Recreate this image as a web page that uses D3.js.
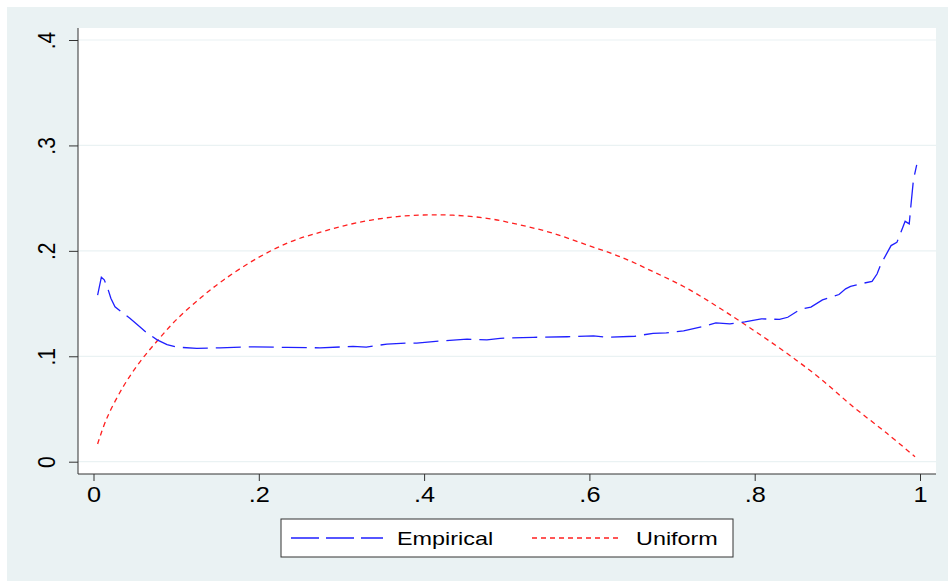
<!DOCTYPE html>
<html>
<head>
<meta charset="utf-8">
<script src="https://cdn.jsdelivr.net/npm/d3@7"></script>
<style>
  body { margin: 0; background: #fff; }
  svg { display: block; }
  text { font-family: "Liberation Sans", Arial, sans-serif; fill: #000; }
</style>
</head>
<body>
<svg id="chart" width="948" height="581"></svg>
<script>
// values
const empX = [0.005, 0.0095, 0.013, 0.017, 0.021, 0.026, 0.034, 0.044, 0.056, 0.064, 0.077, 0.089, 0.101, 0.125, 0.153,
  0.193, 0.234, 0.274, 0.314, 0.33, 0.355, 0.381, 0.391, 0.423, 0.452, 0.476, 0.492, 0.532, 0.573, 0.605, 0.621, 0.655,
  0.677, 0.693, 0.714, 0.736, 0.753, 0.770, 0.788, 0.808, 0.830, 0.840, 0.855, 0.868, 0.882, 0.902, 0.910, 0.916, 0.931,
  0.942, 0.948, 0.953, 0.960, 0.965, 0.972, 0.979, 0.982, 0.987, 0.989, 0.992, 0.996];
const empY = [0.158, 0.175, 0.1725, 0.165, 0.155, 0.147, 0.142, 0.136, 0.128, 0.1226, 0.1156, 0.111, 0.1087, 0.1074, 0.108,
  0.109, 0.1084, 0.108, 0.1093, 0.1087, 0.1116, 0.1125, 0.1125, 0.1147, 0.1162, 0.1156, 0.117, 0.118, 0.1185, 0.1194, 0.118, 0.119,
  0.1218, 0.1222, 0.124, 0.128, 0.1317, 0.1308, 0.1326, 0.1355, 0.135, 0.137, 0.1445, 0.1466, 0.1535, 0.1586, 0.164, 0.1662, 0.1692,
  0.171, 0.178, 0.188, 0.1978, 0.205, 0.208, 0.222, 0.228, 0.2256, 0.243, 0.267, 0.2815];

const uniX = [0.005, 0.016, 0.036, 0.056, 0.077, 0.1, 0.129, 0.157, 0.198, 0.238, 0.278, 0.318, 0.359, 0.399, 0.435,
  0.476, 0.516, 0.556, 0.597, 0.637, 0.677, 0.718, 0.758, 0.798, 0.839, 0.879, 0.919, 0.960, 0.994];
const uniY = [0.0168, 0.041, 0.0712, 0.0945, 0.1145, 0.1345, 0.155, 0.1722, 0.193, 0.2085, 0.2185, 0.2265, 0.2318, 0.234, 0.2338,
  0.2309, 0.2246, 0.2167, 0.2056, 0.1945, 0.1803, 0.1645, 0.1455, 0.125, 0.1028, 0.0791, 0.0522, 0.0269, 0.0047];

const xTicks = [0, 0.2, 0.4, 0.6, 0.8, 1];
const xTickLabels = ["0", ".2", ".4", ".6", ".8", "1"];
const yTicks = [0, 0.1, 0.2, 0.3, 0.4];
const yTickLabels = ["0", ".1", ".2", ".3", ".4"];
const seriesNames = ["Empirical", "Uniform"];

const W = 948, H = 581;
const plot = {left: 78, top: 28, right: 936, bottom: 474};
const svg = d3.select("#chart");

// outer region
svg.append("rect").attr("x", 7).attr("y", 7).attr("width", W - 7).attr("height", H - 7).attr("fill", "#eaf2f3");
svg.append("rect").attr("x", plot.left).attr("y", plot.top)
  .attr("width", plot.right - plot.left).attr("height", plot.bottom - plot.top).attr("fill", "#fff");

const x = d3.scaleLinear().domain([0, 1]).range([93.5, 920]);
const y = d3.scaleLinear().domain([0, 0.4]).range([461.7, 40]);

// grid
svg.append("g").selectAll("line").data(yTicks).join("line")
  .attr("x1", plot.left).attr("x2", plot.right)
  .attr("y1", d => y(d)).attr("y2", d => y(d))
  .attr("stroke", "#eaf2f3").attr("stroke-width", 1.2);

// axes
const gy = svg.append("g").attr("transform", `translate(${plot.left},0)`)
  .call(d3.axisLeft(y).tickValues(yTicks).tickFormat((d, i) => yTickLabels[i]).tickSize(9).tickSizeOuter(0));
gy.attr("font-size", null).attr("font-family", null);
gy.select(".domain").remove();
gy.selectAll(".tick line").attr("stroke", "#333");
gy.selectAll(".tick text").attr("x", null).attr("dy", null)
  .attr("text-anchor", "middle").attr("font-size", 21)
  .attr("transform", "translate(-23,0) scale(1.1,1) rotate(-90)");

const gx = svg.append("g").attr("transform", `translate(0,${plot.bottom})`)
  .call(d3.axisBottom(x).tickValues(xTicks).tickFormat((d, i) => xTickLabels[i]).tickSize(7).tickSizeOuter(0));
gx.attr("font-size", null).attr("font-family", null);
gx.select(".domain").remove();
gx.selectAll(".tick line").attr("stroke", "#333");
gx.selectAll(".tick text").attr("y", null).attr("dy", null)
  .attr("text-anchor", "middle").attr("font-size", 22)
  .attr("transform", "translate(0,28) scale(1.15,1)");

svg.append("line").attr("x1", plot.left).attr("x2", plot.left).attr("y1", plot.top).attr("y2", plot.bottom)
  .attr("stroke", "#333");
svg.append("line").attr("x1", plot.left).attr("x2", plot.right).attr("y1", plot.bottom).attr("y2", plot.bottom)
  .attr("stroke", "#333");

// curves
const empPts = empX.map((v, i) => [v, empY[i]]);
const uniPts = uniX.map((v, i) => [v, uniY[i]]);

svg.append("path").datum(uniPts)
  .attr("d", d3.line().x(d => x(d[0])).y(d => y(d[1])).curve(d3.curveCatmullRom))
  .attr("fill", "none").attr("stroke", "#ff1f1f").attr("stroke-width", 1.3).attr("stroke-dasharray", "5,4");

svg.append("path").datum(empPts)
  .attr("d", d3.line().x(d => x(d[0])).y(d => y(d[1])))
  .attr("fill", "none").attr("stroke", "#1f1fff").attr("stroke-width", 1.3).attr("stroke-dasharray", "25,8");

// legend
const lg = svg.append("g");
lg.append("rect").attr("x", 281).attr("y", 519).attr("width", 452).attr("height", 38)
  .attr("fill", "#fff").attr("stroke", "#333");
lg.append("line").attr("x1", 291).attr("x2", 383).attr("y1", 538).attr("y2", 538)
  .attr("stroke", "#1f1fff").attr("stroke-width", 1.3).attr("stroke-dasharray", "28,7");
lg.append("line").attr("x1", 532).attr("x2", 620).attr("y1", 538).attr("y2", 538)
  .attr("stroke", "#ff1f1f").attr("stroke-width", 1.3).attr("stroke-dasharray", "5,4");
lg.append("text").attr("font-size", 18).attr("transform", "translate(397,544.5) scale(1.3,1)").text(seriesNames[0]);
lg.append("text").attr("font-size", 18).attr("transform", "translate(636,544.5) scale(1.3,1)").text(seriesNames[1]);
</script>
</body>
</html>
